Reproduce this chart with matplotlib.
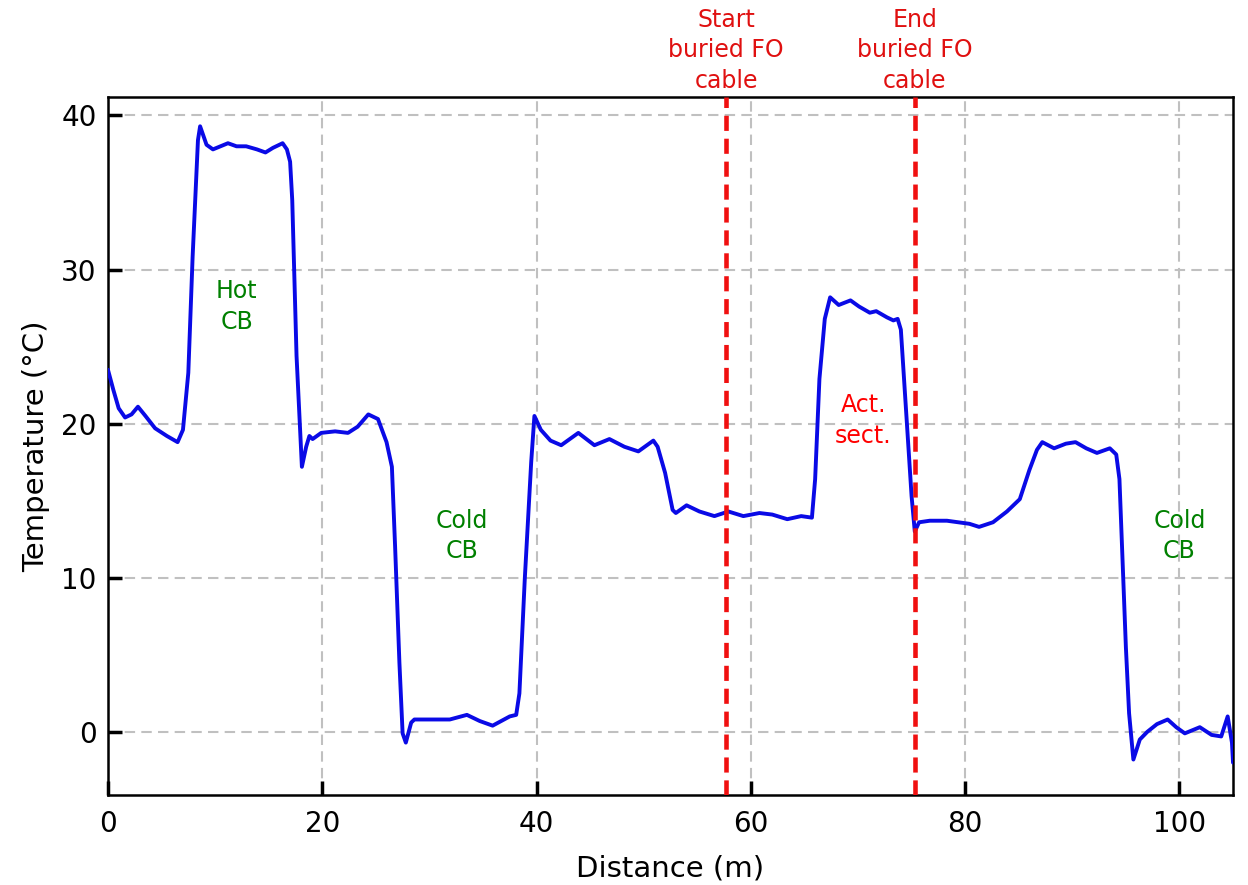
import matplotlib
matplotlib.use('Agg')
import matplotlib.pyplot as plt

# Perfil de temperatura a lo largo del cable
distancia = [0.0, 0.5, 1.0, 1.6, 2.2, 2.8, 3.5, 4.4, 5.5, 6.5, 7.0, 7.5, 7.9, 8.4, 8.6,
             9.2, 9.8, 11.2, 12.0, 12.9, 13.9, 14.7, 15.4, 16.3, 16.7, 17.0, 17.2, 17.6,
             17.9, 18.1, 18.5, 18.8, 19.1, 19.9, 21.2, 22.4, 23.3, 24.3, 25.2, 26.0, 26.5,
             26.8, 27.2, 27.5, 27.8, 28.3, 28.6, 29.4, 30.7, 31.9, 33.5, 34.7, 35.9, 37.5,
             38.1, 38.4, 38.9, 39.5, 39.8, 40.4, 41.3, 42.3, 43.9, 45.4, 46.8, 48.2, 49.5,
             50.9, 51.3, 52.0, 52.7, 53.0, 54.0, 55.2, 56.6, 57.9, 59.3, 60.8, 62.0, 63.4,
             64.7, 65.7, 66.0, 66.4, 66.9, 67.4, 68.2, 69.3, 70.1, 71.1, 71.7, 72.7, 73.3,
             73.7, 74.0, 74.5, 75.0, 75.3, 75.7, 76.7, 78.3, 80.4, 81.3, 82.6, 83.9, 85.1,
             86.0, 86.7, 87.2, 88.3, 89.4, 90.3, 91.3, 92.3, 93.5, 94.1, 94.4, 94.7, 95.0,
             95.3, 95.7, 96.3, 97.0, 97.9, 98.9, 99.7, 100.5, 101.9, 103.0, 103.9, 104.5,
             104.9, 105.0]
temperatura = [23.5, 22.2, 21.0, 20.4, 20.6, 21.1, 20.5, 19.7, 19.2, 18.8, 19.6, 23.3, 30.8,
               38.4, 39.3, 38.1, 37.8, 38.2, 38.0, 38.0, 37.8, 37.6, 37.9, 38.2, 37.8, 37.0,
               34.5, 24.4, 20.1, 17.2, 18.5, 19.2, 19.0, 19.4, 19.5, 19.4, 19.8, 20.6, 20.3,
               18.8, 17.2, 12.0, 4.5, -0.1, -0.7, 0.6, 0.8, 0.8, 0.8, 0.8, 1.1, 0.7, 0.4,
               1.0, 1.1, 2.5, 9.9, 17.5, 20.5, 19.6, 18.9, 18.6, 19.4, 18.6, 19.0, 18.5,
               18.2, 18.9, 18.5, 16.8, 14.4, 14.2, 14.7, 14.3, 14.0, 14.3, 14.0, 14.2, 14.1,
               13.8, 14.0, 13.9, 16.4, 22.9, 26.8, 28.2, 27.7, 28.0, 27.6, 27.2, 27.3, 26.9,
               26.7, 26.8, 26.1, 20.7, 15.3, 13.0, 13.6, 13.7, 13.7, 13.5, 13.3, 13.6, 14.3,
               15.1, 17.0, 18.3, 18.8, 18.4, 18.7, 18.8, 18.4, 18.1, 18.4, 18.0, 16.4, 11.0,
               5.5, 1.2, -1.8, -0.5, 0.0, 0.5, 0.8, 0.3, -0.1, 0.3, -0.2, -0.3, 1.0, -0.7,
               -2.0]

# Inicio y fin del cable enterrado
limites_cable = [57.7, 75.3]
textos_limites = ['Start\nburied FO\ncable', 'End\nburied FO\ncable']

# Etiquetas de las zonas (x, y, texto, color)
etiquetas = [(12.0, 27.6, 'Hot\nCB', 'green'),
             (33.0, 12.7, 'Cold\nCB', 'green'),
             (70.5, 20.2, 'Act.\nsect.', 'red'),
             (100.0, 12.7, 'Cold\nCB', 'green')]

fig = plt.figure(figsize=(12.48, 8.85), dpi=100)
ax = fig.add_axes([0.0865, 0.1017, 0.9015, 0.7887])

ax.plot(distancia, temperatura, color='#0a0ae6', linewidth=2.8, zorder=3,
        solid_joinstyle='round', solid_capstyle='round')

for xl, txt in zip(limites_cable, textos_limites):
    ax.axvline(xl, color='#f01010', linestyle=(0, (3.3, 1.7)), linewidth=3.3, zorder=4)
    ax.text(xl, 1.006, txt, transform=ax.get_xaxis_transform(), ha='center', va='bottom',
            color='#e01010', fontsize=17, linespacing=1.35)

for x, y, txt, c in etiquetas:
    ax.text(x, y, txt, ha='center', va='center', color=c, fontsize=17, linespacing=1.35)

ax.set_xlim(0, 105)
ax.set_ylim(-4.1, 41.2)
ax.set_xticks([0, 20, 40, 60, 80, 100])
ax.set_yticks([0, 10, 20, 30, 40])
ax.grid(True, color='#c0c0c0', linestyle=(0, (5, 3)), linewidth=1.5)
ax.set_axisbelow(True)

ax.tick_params(direction='in', length=10, width=2.5, labelsize=20, pad=8)
ax.tick_params(axis='x', pad=11)
for s in ax.spines.values():
    s.set_linewidth(1.8)

ax.set_xlabel('Distance (m)', fontsize=21, labelpad=12)
ax.set_ylabel('Temperature (°C)', fontsize=21, labelpad=8)

fig.savefig('out.png', dpi=100)
